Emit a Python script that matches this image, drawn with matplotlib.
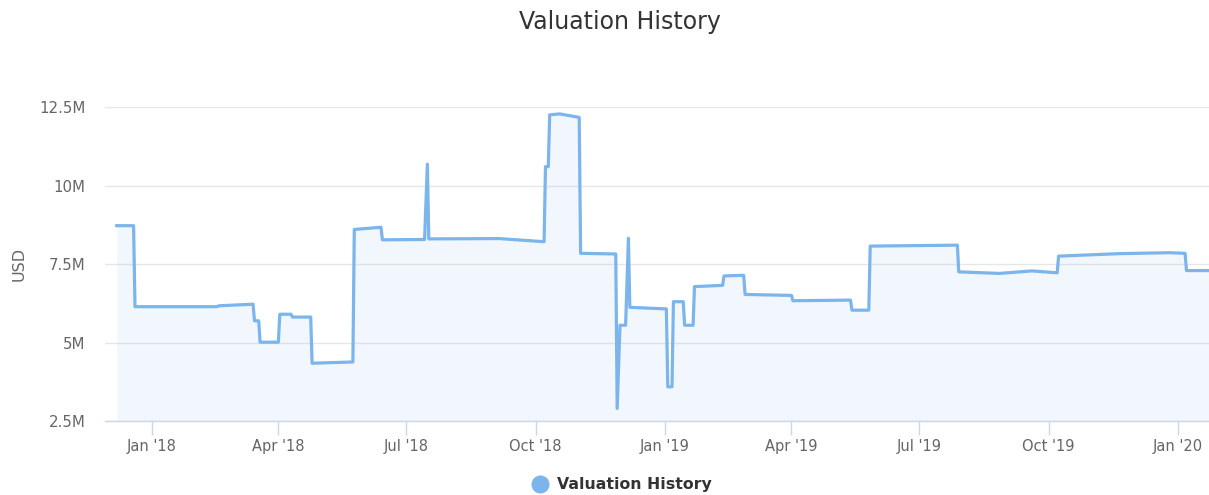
import matplotlib
matplotlib.use("Agg")
import matplotlib.pyplot as plt
import matplotlib.dates as mdates
from matplotlib.ticker import FuncFormatter, FixedLocator
from matplotlib.lines import Line2D
import pandas as pd

# valuation history (values in millions of USD)
dates = [
    "2017-12-07", "2017-12-19", "2017-12-20", "2018-02-16", "2018-02-18",
    "2018-03-14", "2018-03-15", "2018-03-18", "2018-03-19", "2018-04-01",
    "2018-04-02", "2018-04-10", "2018-04-11", "2018-04-24", "2018-04-25",
    "2018-05-24", "2018-05-25", "2018-06-13", "2018-06-14", "2018-07-14",
    "2018-07-16", "2018-07-17", "2018-09-05", "2018-10-07", "2018-10-08",
    "2018-10-10", "2018-10-11", "2018-10-18", "2018-11-01", "2018-11-02",
    "2018-11-27", "2018-11-28", "2018-11-30", "2018-12-04", "2018-12-06",
    "2018-12-07", "2019-01-02", "2019-01-03", "2019-01-06", "2019-01-07",
    "2019-01-14", "2019-01-15", "2019-01-21", "2019-01-22", "2019-02-11",
    "2019-02-12", "2019-02-26", "2019-02-27", "2019-04-01", "2019-04-02",
    "2019-05-13", "2019-05-14", "2019-05-26", "2019-05-27", "2019-07-28",
    "2019-07-29", "2019-08-27", "2019-09-19", "2019-10-07", "2019-10-08",
    "2019-11-20", "2019-12-26", "2020-01-06", "2020-01-07", "2020-01-23",
]
values_m = [
    8.72, 8.72, 6.14, 6.14, 6.17,
    6.22, 5.69, 5.69, 5.01, 5.01,
    5.90, 5.90, 5.81, 5.81, 4.34,
    4.38, 8.60, 8.67, 8.27, 8.28,
    10.68, 8.30, 8.31, 8.21, 10.60,
    10.60, 12.25, 12.28, 12.17, 7.84,
    7.82, 2.90, 5.55, 5.55, 8.32,
    6.12, 6.07, 3.59, 3.59, 6.30,
    6.30, 5.55, 5.55, 6.78, 6.82,
    7.12, 7.14, 6.53, 6.50, 6.33,
    6.35, 6.03, 6.03, 8.07, 8.10,
    7.25, 7.20, 7.28, 7.22, 7.75,
    7.83, 7.86, 7.84, 7.29, 7.29,
]
y_ticks = [2.5e6, 5e6, 7.5e6, 10e6, 12.5e6]
x_tick_dates = ["2018-01-01", "2018-04-01", "2018-07-01", "2018-10-01",
                "2019-01-01", "2019-04-01", "2019-07-01", "2019-10-01",
                "2020-01-01"]

x = pd.to_datetime(dates)
y = [v * 1e6 for v in values_m]

line_color = "#7cb5ec"

fig = plt.figure(figsize=(12.09, 4.95), dpi=100)
ax = fig.add_axes([105 / 1209, 1 - 421 / 495, 1 - 105 / 1209, (421 - 107) / 495])

ax.fill_between(x, y, 2.5e6, color=line_color, alpha=0.1, linewidth=0)
ax.plot(x, y, color=line_color, linewidth=2.3, solid_joinstyle="round")

ax.set_ylim(2.5e6, 12.5e6)
ax.set_xlim(pd.Timestamp("2017-11-28 16:00"), pd.Timestamp("2020-01-23"))

def fmt_m(v, pos):
    return "%gM" % (v / 1e6)

ax.yaxis.set_major_locator(FixedLocator(y_ticks))
ax.yaxis.set_major_formatter(FuncFormatter(fmt_m))
ax.set_xticks(pd.to_datetime(x_tick_dates))
ax.xaxis.set_major_formatter(mdates.DateFormatter("%b '%y"))

for s in ["top", "right", "left"]:
    ax.spines[s].set_visible(False)
ax.spines["bottom"].set_color("#ccd6eb")
ax.spines["bottom"].set_linewidth(1)

ax.grid(axis="y", color="#e6e6e6", linewidth=1)
ax.set_axisbelow(True)
ax.tick_params(axis="y", length=0, pad=14, labelsize=10.8, labelcolor="#666666")
ax.tick_params(axis="x", length=10, width=1, color="#ccd6eb", pad=3,
               labelsize=10.5, labelcolor="#666666")

ax.set_ylabel("USD", fontsize=11.5, color="#666666", labelpad=9)

fig.text(620 / 1209, 1 - 22 / 495, "Valuation History", ha="center", va="center",
         fontsize=17, color="#333333")

handle = Line2D([], [], marker="o", linestyle="none", markersize=12,
                markerfacecolor=line_color, markeredgecolor=line_color)
fig.legend([handle], ["Valuation History"], loc="center",
           bbox_to_anchor=(618 / 1209, 1 - 485 / 495), frameon=False,
           prop={"weight": "bold", "size": 11.3}, handletextpad=0.1,
           labelcolor="#333333")

fig.savefig("out.png", dpi=100)
